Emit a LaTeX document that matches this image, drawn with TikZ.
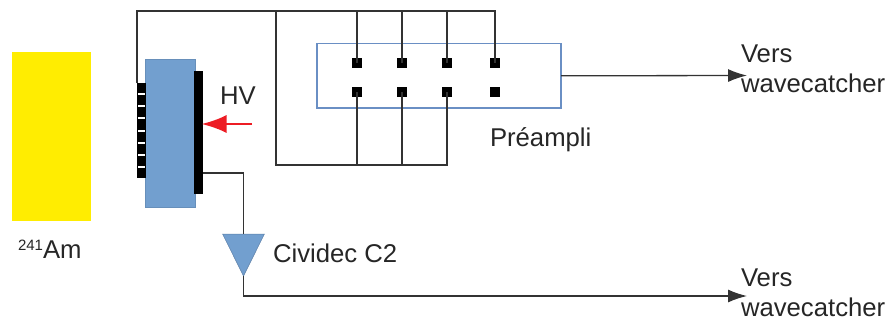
\documentclass[tikz,border=0pt]{standalone}
\usepackage{fontspec}
\setmainfont{Liberation Sans}
\usetikzlibrary{arrows.meta,shapes.geometric}
\definecolor{cblue}{HTML}{729FCF}
\definecolor{bord}{HTML}{6A8FC4}
\definecolor{wirec}{HTML}{333333}
\definecolor{cred}{HTML}{ED1C24}
\tikzset{
 x=1pt,y=-1pt,
 box/.style={draw=none,inner sep=0pt,outer sep=0pt},
 wire/.style={draw=wirec,line width=1.3pt},
 flow/.style={wire,-{Latex[length=19pt,width=13pt]}},
 pin/.style={box,fill=black,minimum width=10pt,minimum height=10pt},
 lab/.style={inner sep=0pt,outer sep=0pt,anchor=base west,font=\fontsize{25.7}{30}\selectfont,text=black!85},
 two/.style={lab,anchor=north west,align=left},
}
\begin{document}
\begin{tikzpicture}
\useasboundingbox (0,0) rectangle (888,322);
\node[box,fill=yellow!95!orange,minimum width=79pt,minimum height=169pt] (src) at (51.5,136.5) {};
\node[lab] (amlab) at (18,258) {\raisebox{8pt}{\fontsize{15}{15}\selectfont 241}Am};
\node[box,fill=cblue,draw=cblue!90!black,line width=.5pt,minimum width=50pt,minimum height=148pt] (det) at (170,133) {};
\node[box,fill=black,minimum width=9.5pt,minimum height=95pt] (conn) at (141.5,130.5) {};
\foreach \i/\yy in {1/94,2/106,3/118,4/131,5/143,6/155,7/167}
  \node[box,fill=white,minimum width=7pt,minimum height=2.2pt] (tick\i) at (141.5,\yy) {};
\node[box,fill=black,minimum width=9.5pt,minimum height=123pt] (bar) at (198.5,132.5) {};
\node[box,draw=bord,line width=1.2pt,minimum width=244pt,minimum height=64.5pt] (pre) at (439,75.8) {};
\foreach \n/\xx in {a/357,b/402,c/447,d/495}{
  \node[pin] (\n1) at (\xx,63) {};
  \node[pin] (\n2) at (\xx,92) {};
}
\coordinate (tl) at (137,11);
\coordinate (tr) at (495,11);
\coordinate (j) at (276,11);
\coordinate (bl) at (276,165);
\coordinate (br) at (447,165);
\coordinate (ba) at (357,165);
\coordinate (bb) at (402,165);
\coordinate (ta) at (357,11);
\coordinate (tb) at (402,11);
\coordinate (tc) at (447,11);
\coordinate (connin) at (137,83);
\draw[wire] (connin) -- (tl) -- (tr) -- (d1.center);
\draw[wire] (ta) -- (a1.center);
\draw[wire] (tb) -- (b1.center);
\draw[wire] (tc) -- (c1.center);
\draw[wire] (j) -- (bl) -- (br) -- (c2.center);
\draw[wire] (ba) -- (a2.center);
\draw[wire] (bb) -- (b2.center);
\node[box,fill=cblue,draw=cblue!80!black,line width=.5pt,isosceles triangle,isosceles triangle apex angle=53,shape border rotate=-90,minimum height=42pt,anchor=apex] (amp) at (243.5,276) {};
\coordinate (barout) at (203,173);
\draw[wire] (barout) -| (amp.north);
\coordinate (o1) at (747,75.5);
\coordinate (o2) at (747,296);
\draw[flow] (pre.east) -- (o1);
\draw[flow] (amp.apex) |- (o2);
\coordinate (hvstart) at (252,124);
\coordinate (hvend) at (201.5,124);
\draw[draw=cred,line width=2.2pt,-{Latex[length=25pt,width=18pt]}] (hvstart) -- (hvend);
\node[lab] (hv) at (220,104) {HV};
\node[lab] (prelab) at (490,146) {Préampli};
\node[lab] (civ) at (273,262) {Cividec C2};
\node[two] (v1) at (741,44.5) {Vers\\wavecatcher};
\node[two] (v2) at (741,268.5) {Vers\\wavecatcher};
\end{tikzpicture}
\end{document}
